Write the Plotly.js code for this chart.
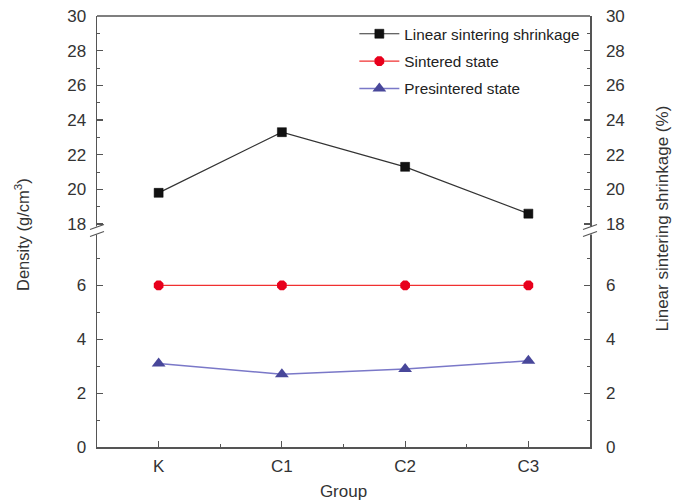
<!DOCTYPE html>
<html><head><meta charset="utf-8">
<script src="https://cdn.plot.ly/plotly-3.0.1.min.js"></script>
<style>html,body{margin:0;padding:0;background:#fff}#chart{width:682px;height:503px}</style>
</head><body><div id="chart"></div>
<script>
const groups = ["K", "C1", "C2", "C3"];
const linearShrinkage = [19.8, 23.3, 21.3, 18.6];
const sinteredState = [6.0, 6.0, 6.0, 6.0];
const presinteredState = [3.1, 2.7, 2.9, 3.2];
const lowerTicks = [0, 2, 4, 6];
const lowerMinor = [1, 3, 5, 7];
const upperTicks = [18, 20, 22, 24, 26, 28, 30];
const upperMinor = [19, 21, 23, 25, 27, 29];

const xIdx = groups.map((g, i) => i);
const xMinor = [0.5, 1.5, 2.5];
const FONT = "Liberation Sans, Arial, sans-serif";
const AX = "#555";
const TXT = "#333";

const traces = [
  {x: xIdx, y: linearShrinkage, name: "Linear sintering shrinkage", xaxis: "x", yaxis: "y4", legendgroup: "a",
   mode: "lines+markers", line: {color: "#333", width: 1.2},
   marker: {symbol: "square", size: 9, color: "#111", line: {color: "#000", width: 0.5}}},
  {x: xIdx, y: sinteredState, name: "Sintered state", xaxis: "x", yaxis: "y", legendgroup: "b",
   mode: "lines+markers", line: {color: "#f03030", width: 1.2},
   marker: {symbol: "octagon", size: 10.5, color: "#e8001c", line: {width: 0}}},
  {x: xIdx, y: presinteredState, name: "Presintered state", xaxis: "x", yaxis: "y", legendgroup: "c",
   mode: "lines+markers", line: {color: "#7a78c8", width: 1.5},
   marker: {symbol: "triangle-up", size: 12, color: "#48479a", line: {width: 0}}},
  {x: [], y: [], xaxis: "x", yaxis: "y2", showlegend: false, hoverinfo: "skip", mode: "markers"},
  {x: [], y: [], xaxis: "x", yaxis: "y3", showlegend: false, hoverinfo: "skip", mode: "markers"}
];

function yAx(extra) {
  return Object.assign({
    showline: true, linecolor: AX, linewidth: 1.5, ticks: "inside", ticklen: 6, tickwidth: 1.2,
    tickcolor: AX, showgrid: false, zeroline: false, tickfont: {family: FONT, size: 17, color: TXT},
    tickmode: "array", fixedrange: true, anchor: "x"
  }, extra);
}
const minorLow = {ticks: "inside", ticklen: 3, tickwidth: 1, tickcolor: AX, tickmode: "array", tickvals: lowerMinor, showgrid: false};
const minorUp = {ticks: "inside", ticklen: 3, tickwidth: 1, tickcolor: AX, tickmode: "array", tickvals: upperMinor, showgrid: false};

const layout = {
  width: 682, height: 503,
  margin: {l: 97, r: 92, t: 16, b: 56},
  paper_bgcolor: "#fff", plot_bgcolor: "#fff",
  showlegend: true,
  legend: {x: 0.522, y: 0.997, xanchor: "left", yanchor: "top", bgcolor: "rgba(0,0,0,0)",
    font: {family: FONT, size: 15.3, color: "#222"}, traceorder: "grouped", tracegroupgap: 4.5, itemwidth: 40},
  xaxis: {anchor: "y", range: [-0.5, 3.5], tickmode: "array", tickvals: xIdx, ticktext: groups, showline: true,
    linecolor: AX, linewidth: 1.5, ticks: "inside", ticklen: 6, tickwidth: 1.2, tickcolor: AX,
    showgrid: false, zeroline: false, tickfont: {family: FONT, size: 17, color: TXT}, fixedrange: true,
    ticklabelstandoff: 3,
    minor: {ticks: "inside", ticklen: 3, tickwidth: 1, tickcolor: AX, tickmode: "array", tickvals: xMinor, showgrid: false},
    title: {text: "Group", font: {family: FONT, size: 17, color: TXT}, standoff: 10}},
  yaxis: yAx({domain: [0, 0.5], range: [0, 8], tickvals: lowerTicks, side: "left", minor: minorLow, ticklabelstandoff: 6}),
  yaxis2: yAx({domain: [0.5, 1], range: [17.57, 30], tickvals: upperTicks, side: "left", minor: minorUp, ticklabelstandoff: 6}),
  yaxis3: yAx({domain: [0, 0.5], range: [0, 8], tickvals: lowerTicks, side: "right", overlaying: "y", minor: minorLow, ticklabelstandoff: 11}),
  yaxis4: yAx({domain: [0.5, 1], range: [17.57, 30], tickvals: upperTicks, side: "right", overlaying: "y2", minor: minorUp, ticklabelstandoff: 11}),
  shapes: [
    {type: "line", xref: "paper", yref: "paper", x0: 0, x1: 1, y0: 1, y1: 1, line: {color: AX, width: 1.5}},
    {type: "rect", xref: "paper", yref: "paper", xsizemode: "pixel", ysizemode: "pixel", xanchor: 0, yanchor: 0.5,
     x0: -3, x1: 3, y0: -3, y1: 5, fillcolor: "#fff", line: {width: 0}},
    {type: "rect", xref: "paper", yref: "paper", xsizemode: "pixel", ysizemode: "pixel", xanchor: 1, yanchor: 0.5,
     x0: -3, x1: 3, y0: -3, y1: 5, fillcolor: "#fff", line: {width: 0}},
    {type: "line", xref: "paper", yref: "paper", xsizemode: "pixel", ysizemode: "pixel", xanchor: 0, yanchor: 0.5,
     x0: -7, x1: 7, y0: -5, y1: 0, line: {color: AX, width: 1.2}},
    {type: "line", xref: "paper", yref: "paper", xsizemode: "pixel", ysizemode: "pixel", xanchor: 0, yanchor: 0.5,
     x0: -7, x1: 7, y0: 2, y1: 7, line: {color: AX, width: 1.2}},
    {type: "line", xref: "paper", yref: "paper", xsizemode: "pixel", ysizemode: "pixel", xanchor: 1, yanchor: 0.5,
     x0: -7, x1: 7, y0: -5, y1: 0, line: {color: AX, width: 1.2}},
    {type: "line", xref: "paper", yref: "paper", xsizemode: "pixel", ysizemode: "pixel", xanchor: 1, yanchor: 0.5,
     x0: -7, x1: 7, y0: 2, y1: 7, line: {color: AX, width: 1.2}}
  ],
  annotations: [
    {text: "Density (g/cm<sup>3</sup>)", xref: "paper", yref: "paper", x: -0.152, y: 0.492, xanchor: "center", yanchor: "middle",
     textangle: -90, showarrow: false, font: {family: FONT, size: 16.5, color: TXT}},
    {text: "Linear sintering shrinkage (%)", xref: "paper", yref: "paper", x: 1.148, y: 0.53, xanchor: "center", yanchor: "middle",
     textangle: -90, showarrow: false, font: {family: FONT, size: 17, color: TXT}}
  ]
};

Plotly.newPlot("chart", traces, layout, {displayModeBar: false, staticPlot: true});
</script></body></html>
